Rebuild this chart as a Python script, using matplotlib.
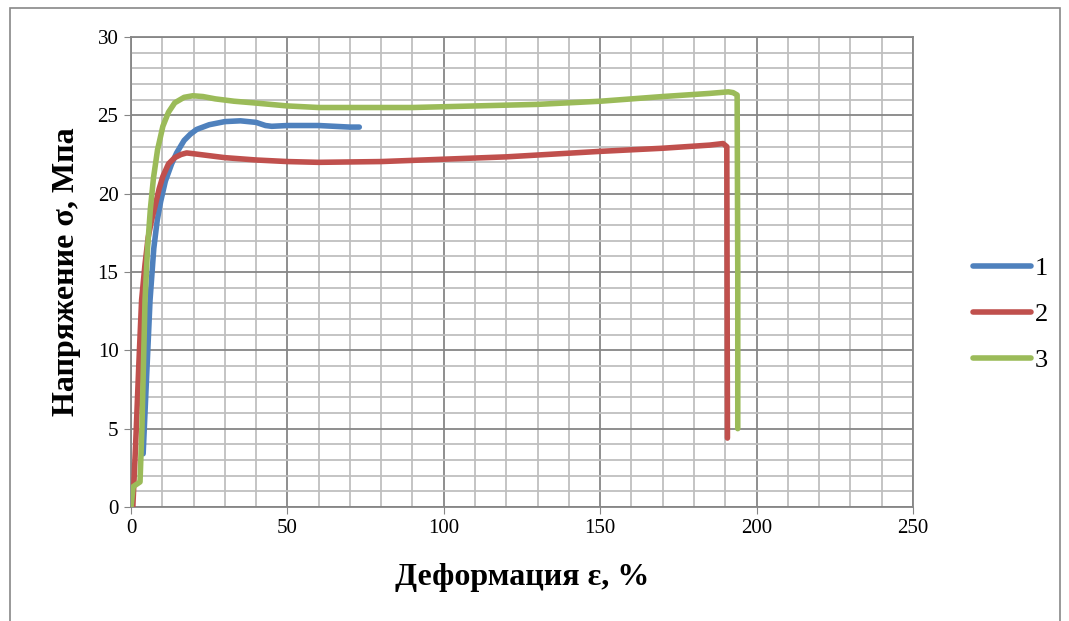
import matplotlib.pyplot as plt
from matplotlib.patches import Rectangle
from matplotlib.ticker import MultipleLocator

plt.rcParams['font.family'] = ['Liberation Serif', 'DejaVu Serif']

# кривые растяжения трёх образцов: деформация, %  /  напряжение, МПа
eps_1 = [3.9, 6.1, 7.3, 8.4, 9.5, 11, 13, 14.6, 17, 19, 21, 25, 30, 35, 40, 43,
         45, 50, 55, 60, 65, 70, 73]
sig_1 = [3.4, 13.2, 16.5, 18.3, 19.5, 20.8, 21.9, 22.6, 23.4, 23.8, 24.1, 24.4,
         24.6, 24.65, 24.55, 24.35, 24.3, 24.35, 24.35, 24.35, 24.3, 24.25, 24.25]

eps_2 = [0.6, 1.5, 2.5, 3.4, 4.5, 5.5, 6.6, 7.7, 9, 10.2, 12, 14, 16, 17.8, 20,
         22, 30, 40, 50, 60, 80, 100, 120, 150, 170, 185, 189.3, 190.5, 190.7]
sig_2 = [0, 4, 9, 13.2, 15.5, 17.2, 18.3, 19.2, 20.3, 21.1, 21.9, 22.3, 22.5,
         22.6, 22.55, 22.5, 22.3, 22.15, 22.05, 22.0, 22.05, 22.2, 22.35, 22.7,
         22.9, 23.1, 23.2, 23.0, 4.4]

eps_3 = [0, 0.7, 2.9, 3.5, 4.5, 5.3, 6.2, 7.2, 8.5, 10.2, 12, 14, 17, 19.8, 23,
         27, 33, 39, 50, 60, 75, 90, 110, 130, 150, 170, 185, 191, 192.5, 193.8,
         194, 194]
sig_3 = [0, 1.3, 1.6, 5, 13.2, 16.5, 19, 21, 22.8, 24.3, 25.2, 25.8, 26.15,
         26.25, 26.2, 26.05, 25.9, 25.8, 25.6, 25.5, 25.5, 25.5, 25.6, 25.7, 25.9,
         26.2, 26.4, 26.5, 26.45, 26.3, 15, 5]

labels = ['1', '2', '3']
colors = ['#4F81BD', '#C0504D', '#9BBB59']

fig = plt.figure(figsize=(10.69, 6.21), dpi=100)
ax = fig.add_axes([0.1225, 0.1836, 0.7315, 0.7568])

for x, y, lab, c in zip([eps_1, eps_2, eps_3], [sig_1, sig_2, sig_3], labels, colors):
    ax.plot(x, y, color=c, lw=4, label=lab, solid_capstyle='round',
            solid_joinstyle='round', zorder=3)

ax.set_xlim(0, 250)
ax.set_ylim(0, 30)
ax.xaxis.set_major_locator(MultipleLocator(50))
ax.xaxis.set_minor_locator(MultipleLocator(10))
ax.yaxis.set_major_locator(MultipleLocator(5))
ax.yaxis.set_minor_locator(MultipleLocator(1))
ax.grid(which='minor', color='#BFBFBF', lw=1.3)
ax.grid(which='major', color='#868686', lw=1.3)
ax.set_axisbelow(True)
for s in ax.spines.values():
    s.set_color('#868686')
    s.set_linewidth(1.3)
ax.tick_params(which='major', length=5, color='#868686', labelsize=15, pad=4)
ax.tick_params(which='minor', length=0)

ax.set_xlabel('Деформация ε, %', fontsize=23, fontweight='bold', labelpad=18)
ax.set_ylabel('Напряжение σ, Мпа', fontsize=23, fontweight='bold', labelpad=12)

leg = ax.legend(loc='center left', bbox_to_anchor=(1.06, 0.41), frameon=False,
                borderpad=0, fontsize=19, handlelength=2.2, handletextpad=0.15,
                labelspacing=0.85)

# рамка области диаграммы
fig.patches.append(Rectangle((10 / 1069, -0.1), 1050 / 1069, 1.1 - 8 / 621,
                             transform=fig.transFigure, fill=False,
                             edgecolor='#888888', lw=1.2))

fig.savefig('out.png', dpi=100)
